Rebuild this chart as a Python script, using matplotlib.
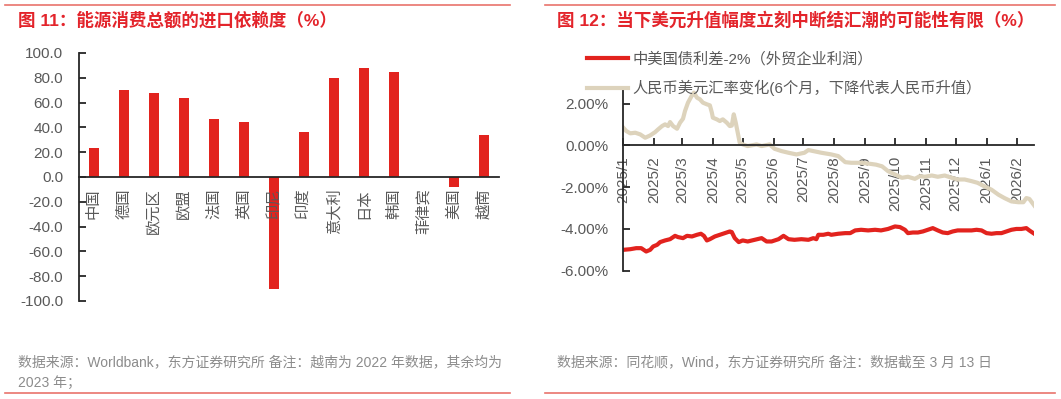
import matplotlib
matplotlib.use('Agg')
import matplotlib.pyplot as plt
import numpy as np
import pandas as pd
from matplotlib.lines import Line2D

plt.rcParams['font.family'] = ['Liberation Sans', 'Noto Sans CJK SC', 'DejaVu Sans']

# ---------------- data: left chart ----------------
countries = ['中国', '德国', '欧元区', '欧盟', '法国', '英国', '印尼', '印度',
             '意大利', '日本', '韩国', '菲律宾', '美国', '越南']
dependency = [23.7, 70.4, 68.0, 63.4, 47.0, 44.0, -90.0, 36.0,
              79.8, 87.6, 85.0, np.nan, -8.0, 33.9]
left_yticks = [100, 80, 60, 40, 20, 0, -20, -40, -60, -80, -100]
left_yticklabels = ['100.0', '80.0', '60.0', '40.0', '20.0', '0.0',
                    '-20.0', '-40.0', '-60.0', '-80.0', '-100.0']

# ---------------- data: right chart ----------------
fx_dates = ['2025-01-01', '2025-01-04', '2025-01-08', '2025-01-13', '2025-01-18',
            '2025-01-23', '2025-01-28', '2025-02-02', '2025-02-05', '2025-02-09',
            '2025-02-12', '2025-02-15', '2025-02-17', '2025-02-20', '2025-02-24',
            '2025-02-27', '2025-03-02', '2025-03-04', '2025-03-07', '2025-03-11',
            '2025-03-13', '2025-03-16', '2025-03-19', '2025-03-22', '2025-03-26',
            '2025-03-29', '2025-03-31', '2025-04-01', '2025-04-05', '2025-04-08',
            '2025-04-11', '2025-04-15', '2025-04-18', '2025-04-20', '2025-04-22',
            '2025-04-24', '2025-04-26', '2025-04-28', '2025-05-01', '2025-05-06',
            '2025-05-15', '2025-05-20', '2025-05-28', '2025-06-02', '2025-06-09',
            '2025-06-16', '2025-06-24', '2025-07-02', '2025-07-06', '2025-07-11',
            '2025-07-19', '2025-07-29', '2025-08-05', '2025-08-12', '2025-08-18',
            '2025-08-28', '2025-09-06', '2025-09-12', '2025-09-18', '2025-09-24',
            '2025-10-01', '2025-10-08', '2025-10-14', '2025-10-21', '2025-10-26',
            '2025-10-31', '2025-11-07', '2025-11-13', '2025-11-20', '2025-11-27',
            '2025-12-03', '2025-12-10', '2025-12-17', '2025-12-23', '2025-12-30',
            '2026-01-06', '2026-01-13', '2026-01-19', '2026-01-26', '2026-02-02',
            '2026-02-07', '2026-02-10', '2026-02-13', '2026-02-18']
fx_change = [0.85, 0.69, 0.58, 0.61, 0.53,
             0.37, 0.48, 0.64, 0.77, 0.93,
             1.01, 0.93, 1.12, 0.93, 0.80,
             1.09, 1.28, 1.65, 2.05, 2.40,
             2.53, 2.29, 2.21, 2.05, 1.97,
             1.92, 1.57, 1.33, 1.25, 1.17,
             1.25, 1.09, 0.93, 0.95, 1.49,
             1.09, 0.61, 0.13, 0.05, -0.03,
             0.05, -0.03, 0.05, -0.16, -0.27,
             -0.35, -0.43, -0.35, -0.22, -0.27,
             -0.35, -0.43, -0.51, -0.80, -0.83,
             -0.83, -0.88, -0.92, -1.00, -1.23,
             -1.39, -1.55, -1.50, -1.60, -1.47,
             -1.50, -1.44, -1.50, -1.44, -1.55,
             -1.63, -1.63, -1.71, -1.79, -1.96,
             -2.12, -2.36, -2.52, -2.68, -2.72,
             -2.72, -2.52, -2.56, -2.88]

spread_dates = ['2025-01-01', '2025-01-08', '2025-01-14', '2025-01-19', '2025-01-24',
                '2025-01-28', '2025-01-31', '2025-02-04', '2025-02-07', '2025-02-12',
                '2025-02-17', '2025-02-22', '2025-02-25', '2025-03-02', '2025-03-06',
                '2025-03-11', '2025-03-16', '2025-03-20', '2025-03-23', '2025-03-26',
                '2025-03-29', '2025-04-03', '2025-04-08', '2025-04-13', '2025-04-18',
                '2025-04-20', '2025-04-23', '2025-04-27', '2025-05-01', '2025-05-06',
                '2025-05-13', '2025-05-20', '2025-05-25', '2025-05-30', '2025-06-06',
                '2025-06-11', '2025-06-16', '2025-06-22', '2025-06-29', '2025-07-06',
                '2025-07-11', '2025-07-14', '2025-07-16', '2025-07-21', '2025-07-26',
                '2025-07-29', '2025-08-05', '2025-08-12', '2025-08-17', '2025-08-22',
                '2025-08-28', '2025-09-04', '2025-09-11', '2025-09-17', '2025-09-24',
                '2025-10-01', '2025-10-06', '2025-10-11', '2025-10-14', '2025-10-19',
                '2025-10-24', '2025-10-29', '2025-11-03', '2025-11-08', '2025-11-13',
                '2025-11-18', '2025-11-23', '2025-11-28', '2025-12-03', '2025-12-10',
                '2025-12-17', '2025-12-22', '2025-12-27', '2026-01-01', '2026-01-06',
                '2026-01-11', '2026-01-16', '2026-01-21', '2026-01-26', '2026-01-31',
                '2026-02-05', '2026-02-10', '2026-02-13', '2026-02-18']
spread = [-5.00, -4.97, -4.92, -4.92, -5.08,
          -5.00, -4.84, -4.76, -4.63, -4.55,
          -4.49, -4.33, -4.39, -4.44, -4.33,
          -4.36, -4.28, -4.23, -4.33, -4.55,
          -4.49, -4.36, -4.28, -4.20, -4.12,
          -4.15, -4.44, -4.63, -4.55, -4.60,
          -4.52, -4.44, -4.60, -4.60, -4.49,
          -4.33, -4.49, -4.52, -4.49, -4.52,
          -4.44, -4.49, -4.28, -4.28, -4.23,
          -4.28, -4.23, -4.20, -4.20, -4.07,
          -4.04, -4.07, -4.04, -4.07, -4.00,
          -3.88, -3.91, -4.04, -4.20, -4.17,
          -4.17, -4.12, -4.04, -3.96, -4.07,
          -4.17, -4.20, -4.12, -4.07, -4.07,
          -4.07, -4.04, -4.07, -4.20, -4.23,
          -4.20, -4.20, -4.12, -4.04, -4.00,
          -4.00, -3.96, -4.07, -4.23]

right_yticks = [2, 0, -2, -4, -6]
right_yticklabels = ['2.00%', '0.00%', '-2.00%', '-4.00%', '-6.00%']
month_ticks = pd.date_range('2025-01-01', '2026-02-01', freq='MS')
month_labels = [f'{d.year}/{d.month}' for d in month_ticks]

legend_labels = ['中美国债利差-2%（外贸企业利润）',
                 '人民币美元汇率变化(6个月，下降代表人民币升值）']
title_left = '图 11：能源消费总额的进口依赖度（%）'
title_right = '图 12：当下美元升值幅度立刻中断结汇潮的可能性有限（%）'
note_left_1 = '数据来源：Worldbank，东方证券研究所 备注：越南为 2022 年数据，其余均为'
note_left_2 = '2023 年；'
note_right = '数据来源：同花顺，Wind，东方证券研究所 备注：数据截至 3 月 13 日'

# ---------------- styles ----------------
RED = '#E2231E'
BEIGE = '#DDD3BC'
TITLE_RED = '#E3242B'
GRAY = '#595959'
NOTE_GRAY = '#8C8C8C'
RULE = '#E9736C'
AXC = '#262626'
W, H = 1061, 399

fig = plt.figure(figsize=(W / 100, H / 100), dpi=100)

# ---------------- left chart ----------------
ax1 = fig.add_axes([79 / W, 1 - 301 / H, 420 / W, 248 / H])
for s in ['top', 'right']:
    ax1.spines[s].set_visible(False)
ax1.spines['bottom'].set_position(('data', 0))
for s in ['left', 'bottom']:
    ax1.spines[s].set_color(AXC)
    ax1.spines[s].set_linewidth(1.3)
ax1.spines['bottom'].set_zorder(3)
ax1.bar(np.arange(len(countries)), dependency, width=0.32, color=RED, zorder=1)
ax1.set_xlim(-0.5, len(countries) - 0.5)
ax1.set_ylim(-100, 100)
ax1.set_yticks(left_yticks)
ax1.set_yticklabels(left_yticklabels)
ax1.set_xticks(np.arange(len(countries)))
ax1.set_xticklabels(countries, rotation=90, va='top', ha='center')
ax1.tick_params(axis='y', direction='in', length=5, width=1.3, color=AXC,
                pad=11.5, labelsize=11, labelcolor=GRAY)
ax1.tick_params(axis='x', length=0, pad=8, labelsize=11, labelcolor=GRAY)
ax1.xaxis.set_zorder(4)
ax1.yaxis.set_zorder(4)

# ---------------- right chart ----------------
ax2 = fig.add_axes([623.3 / W, 1 - 270.7 / H, 411 / W, 183.7 / H])
for s in ['top', 'right']:
    ax2.spines[s].set_visible(False)
ax2.spines['bottom'].set_position(('data', 0))
for s in ['left', 'bottom']:
    ax2.spines[s].set_color(AXC)
    ax2.spines[s].set_linewidth(1.3)
ax2.plot(pd.to_datetime(fx_dates), fx_change, color=BEIGE, lw=3, zorder=2)
ax2.plot(pd.to_datetime(spread_dates), spread, color=RED, lw=3, zorder=2)
ax2.set_xlim(pd.Timestamp('2025-01-01'), pd.Timestamp('2026-02-18'))
ax2.set_ylim(-6, 2.8)
ax2.set_yticks(right_yticks)
ax2.set_yticklabels(right_yticklabels)
ax2.set_xticks(month_ticks)
ax2.set_xticklabels(month_labels, rotation=90, va='top', ha='center')
ax2.tick_params(axis='y', direction='in', length=5, width=1.3, color=AXC,
                pad=11, labelsize=11, labelcolor=GRAY)
ax2.tick_params(axis='x', direction='in', length=5, width=1.3, color=AXC,
                pad=7.5, labelsize=11, labelcolor=GRAY)

handles = [Line2D([], [], color=RED, lw=3), Line2D([], [], color=BEIGE, lw=3)]
fig.legend(handles, legend_labels, loc='upper left',
           bbox_to_anchor=(587 / W, 1 - 52 / H), frameon=False,
           handlelength=2.7, handletextpad=0.3, labelspacing=0.85,
           borderpad=0, borderaxespad=0, fontsize=11, labelcolor=GRAY)

# ---------------- titles, notes, rules ----------------
fig.text(18 / W, 1 - 20 / H, title_left, fontsize=12.6, fontweight='bold',
         color=TITLE_RED, va='center', ha='left')
fig.text(557 / W, 1 - 20 / H, title_right, fontsize=12.6, fontweight='bold',
         color=TITLE_RED, va='center', ha='left')
fig.text(18 / W, 1 - 362 / H, note_left_1, fontsize=10, color=NOTE_GRAY,
         va='center', ha='left')
fig.text(18 / W, 1 - 383 / H, note_left_2, fontsize=10, color=NOTE_GRAY,
         va='center', ha='left')
fig.text(557 / W, 1 - 362 / H, note_right, fontsize=10, color=NOTE_GRAY,
         va='center', ha='left')

for x0, x1 in [(5, 510), (545, 1055)]:
    fig.add_artist(Line2D([x0 / W, x1 / W], [1 - 5 / H, 1 - 5 / H],
                          color=RULE, lw=1.2))
    fig.add_artist(Line2D([x0 / W, x1 / W], [1 - 393 / H, 1 - 393 / H],
                          color=RULE, lw=1.2))

fig.savefig('out.png', dpi=100)
